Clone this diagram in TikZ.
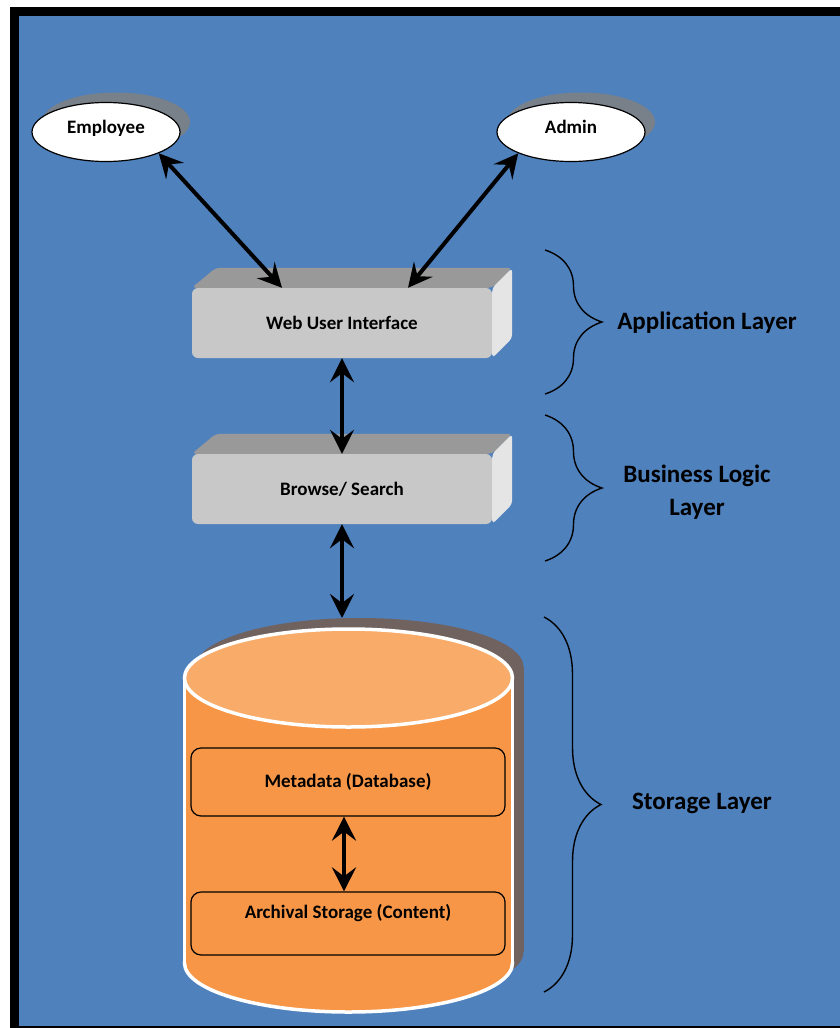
\documentclass[tikz,border=0pt]{standalone}
\usepackage{fontspec}
\setmainfont{Carlito}
\usetikzlibrary{arrows.meta,positioning,shapes.geometric,shadows,decorations.pathreplacing}
\definecolor{panelBlue}{RGB}{79,129,189}
\definecolor{tierFront}{RGB}{200,200,200}
\definecolor{tierTop}{RGB}{153,153,153}
\definecolor{tierSide}{RGB}{229,229,229}
\definecolor{actorShadow}{RGB}{120,128,138}
\definecolor{storeOrange}{RGB}{247,150,70}
\definecolor{storeLightOrange}{RGB}{249,172,106}
\definecolor{storeShadow}{RGB}{112,98,95}

\begin{document}
\begin{tikzpicture}[
  x=1pt, y=-1pt,
  actor/.style={
    ellipse,
    draw,
    line width=1.2pt,
    fill=white,
    minimum width=148pt,
    minimum height=59pt,
    text depth=10pt,
    font=\bfseries\fontsize{19}{22}\selectfont,
    drop shadow={shadow xshift=10pt,shadow yshift=10pt,opacity=1,fill=actorShadow}
  },
  tier/.style={
    fill=tierFront,
    rounded corners=6pt,
    minimum width=300pt,
    minimum height=70pt,
    font=\bfseries\fontsize{19}{22}\selectfont
  },
  storebox/.style={
    draw,
    line width=1.2pt,
    fill=storeOrange,
    rounded corners=10pt,
    minimum width=314pt,
    font=\bfseries\fontsize{19}{22}\selectfont
  },
  link/.style={
    {Stealth[length=24pt,width=24pt,inset=9pt]}-{Stealth[length=24pt,width=24pt,inset=9pt]},
    line width=4pt
  },
  layerbrace/.style={
    decorate,
    decoration={brace,amplitude=57pt},
    line width=1.4pt
  },
  layerlabel/.style={
    font=\bfseries\fontsize{25}{33}\selectfont,
    align=center
  }
]
  \useasboundingbox (0,0) rectangle (840,1028);
  \fill[white] (0,0) rectangle (840,1028);
  \begin{scope}
    \clip (0,0) rectangle (840,1028);
    \draw[line width=9pt,fill=panelBlue] (14,11) rectangle (852,1030);
  \end{scope}

  % users
  \node[actor] (employee) at (106,132) {Employee};
  \node[actor] (admin) at (571,132) {Admin};

  % application and logic tiers, with their depth faces
  \node[tier] (web) at (342,323) {Web User Interface};
  \node[tier] (browse) at (342,489) {Browse/ Search};
  \foreach \t in {web,browse} {
    \fill[tierTop,rounded corners=4pt] (\t.north west) -- ++(24,-20)
      -- ([shift={(20,-20)}]\t.north east) -- (\t.north east) -- cycle;
    \fill[tierSide,rounded corners=4pt] (\t.north east)
      -- ([shift={(20,-20)}]\t.north east)
      -- ([shift={(20,-20)}]\t.south east) -- (\t.south east) -- cycle;
  }

  % storage cylinder
  \begin{scope}[shift={(11,-11)}]
    \fill[storeShadow] (184.5,678) rectangle (512.5,963);
    \fill[storeShadow] (348.5,678) ellipse [x radius=164pt,y radius=49pt];
    \fill[storeShadow] (348.5,963) ellipse [x radius=164pt,y radius=49pt];
  \end{scope}
  \filldraw[fill=storeOrange,draw=white,line width=3.5pt]
    (348.5,963) ellipse [x radius=164pt,y radius=49pt];
  \fill[storeOrange] (184.5,678) rectangle (512.5,963);
  \draw[white,line width=3.5pt] (184.5,678) -- (184.5,963) (512.5,678) -- (512.5,963);
  \filldraw[fill=storeLightOrange,draw=white,line width=3.5pt]
    (348.5,678) ellipse [x radius=164pt,y radius=49pt];
  \coordinate (storetop) at (342,618);

  \node[storebox,minimum height=68pt] (meta) at (348,782) {Metadata (Database)};
  \node[storebox,minimum height=63pt,text depth=24pt] (archive) at (348,923.5)
    {Archival Storage (Content)};

  % connectors
  \draw[link] (employee.south east) -- ([xshift=-60pt]web.north);
  \draw[link] (admin.south west) -- ([xshift=66pt]web.north);
  \draw[link] (web.south) -- (browse.north);
  \draw[link] (browse.south) -- (storetop);
  \draw[link] ([xshift=-4pt]meta.south) -- ([xshift=-4pt]archive.north);

  % layer braces
  \draw[layerbrace] (545,250) -- (545,394);
  \draw[layerbrace] (545,415) -- (545,561);
  \draw[layerbrace] (544,617) -- (544,992);
  \node[layerlabel] (applayer) at (707,323) {Application Layer};
  \node[layerlabel] (logiclayer) at (697,492) {Business Logic\\Layer};
  \node[layerlabel] (storelayer) at (702,803) {Storage Layer};
\end{tikzpicture}
\end{document}
